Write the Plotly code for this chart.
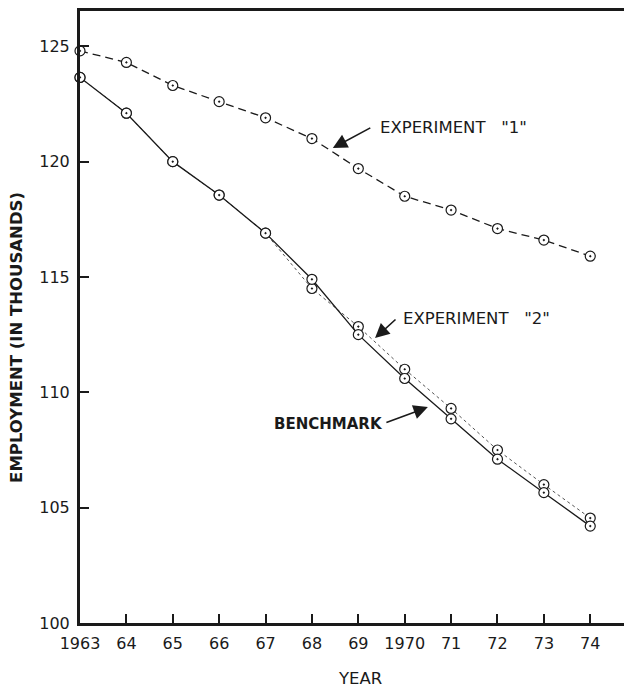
import plotly.graph_objects as go

years = [1963, 1964, 1965, 1966, 1967, 1968, 1969, 1970, 1971, 1972, 1973, 1974]
year_labels = ["1963", "64", "65", "66", "67", "68", "69", "1970", "71", "72", "73", "74"]
experiment1 = [124.8, 124.3, 123.3, 122.6, 121.9, 121.0, 119.7, 118.5, 117.9, 117.1, 116.6, 115.9]
benchmark = [123.65, 122.1, 120.0, 118.55, 116.9, 114.9, 112.5, 110.6, 108.85, 107.1, 105.65, 104.2]
experiment2 = [123.65, 122.1, 120.0, 118.55, 116.9, 114.5, 112.85, 111.0, 109.3, 107.5, 106.0, 104.55]
y_ticks = [100, 105, 110, 115, 120, 125]

FONT = "DejaVu Sans"
INK = "#1a1a1a"

marker = dict(symbol="circle-dot", size=10, color="white", line=dict(color=INK, width=1.2))

fig = go.Figure()
fig.add_trace(go.Scatter(x=years, y=experiment2, mode="lines+markers",
                         line=dict(color="#555555", width=1, dash="dot"),
                         marker=marker, cliponaxis=False, name='EXPERIMENT "2"'))
fig.add_trace(go.Scatter(x=years, y=benchmark, mode="lines+markers",
                         line=dict(color=INK, width=1.3),
                         marker=marker, cliponaxis=False, name="BENCHMARK"))
fig.add_trace(go.Scatter(x=years, y=experiment1, mode="lines+markers",
                         line=dict(color=INK, width=1.3, dash="8px,5px"),
                         marker=marker, cliponaxis=False, name='EXPERIMENT "1"'))
# invisible trace to carry right-side ticks
fig.add_trace(go.Scatter(x=[years[0]], y=[y_ticks[0]], yaxis="y2", mode="markers",
                         marker=dict(opacity=0), showlegend=False, hoverinfo="skip"))

xr = [1963, 1974.9]
yr = [100, 126.53]

fig.update_layout(
    width=624, height=680,
    margin=dict(l=72, r=0, t=3, b=65),
    paper_bgcolor="white", plot_bgcolor="white",
    showlegend=False,
    font=dict(family=FONT, color=INK),
    xaxis=dict(range=xr, tickvals=years, ticktext=year_labels,
               ticks="inside", ticklen=9, tickwidth=1.5, tickcolor=INK,
               showline=True, linewidth=3, linecolor=INK, mirror=True,
               showgrid=False, zeroline=False, ticklabelstandoff=4,
               tickfont=dict(size=16, family=FONT, color=INK)),
    yaxis=dict(range=yr, tickvals=y_ticks,
               ticks="inside", ticklen=9, tickwidth=1.5, tickcolor=INK,
               showline=True, linewidth=3, linecolor=INK,
               showgrid=False, zeroline=False, ticklabelstandoff=4,
               tickfont=dict(size=16, family=FONT, color=INK)),
    yaxis2=dict(range=yr, tickvals=y_ticks, overlaying="y", side="right",
                ticks="inside", ticklen=8, tickwidth=1.5, tickcolor=INK,
                showline=False, showgrid=False, zeroline=False, showticklabels=False),
)

ann = []
# axis titles
ann.append(dict(text="EMPLOYMENT (IN THOUSANDS)", xref="paper", yref="paper",
                x=-0.114, y=0.466, xanchor="center", yanchor="middle", textangle=-90,
                showarrow=False, font=dict(size=16.5, family=FONT, color=INK, weight="bold")))
ann.append(dict(text="YEAR", xref="paper", yref="paper", x=0.507, y=-0.09,
                xanchor="center", yanchor="middle", showarrow=False,
                font=dict(size=16.5, family=FONT, color=INK)))
# labels
ann.append(dict(text='EXPERIMENT   "1"', xref="x", yref="y", x=1969.42, y=121.5,
                xanchor="left", yanchor="middle", showarrow=False,
                font=dict(size=16.5, family=FONT, color=INK)))
ann.append(dict(text='EXPERIMENT   "2"', xref="x", yref="y", x=1969.92, y=113.22,
                xanchor="left", yanchor="middle", showarrow=False,
                font=dict(size=16.5, family=FONT, color=INK)))
ann.append(dict(text="BENCHMARK", xref="x", yref="y", x=1969.57, y=108.63,
                xanchor="right", yanchor="middle", showarrow=False,
                font=dict(size=15, family=FONT, color=INK, weight="bold")))
# arrows
arrow = dict(text="", showarrow=True, arrowhead=2, arrowsize=1.8, arrowwidth=1.6,
             arrowcolor=INK, xref="x", yref="y", axref="pixel", ayref="pixel")
ann.append(dict(arrow, x=1968.45, y=120.59, ax=39, ay=-21))
ann.append(dict(arrow, x=1969.36, y=112.35, ax=22, ay=-20))
ann.append(dict(arrow, x=1970.5, y=109.36, ax=-43, ay=16))

fig.update_layout(annotations=ann)
fig.write_html("out.html")
